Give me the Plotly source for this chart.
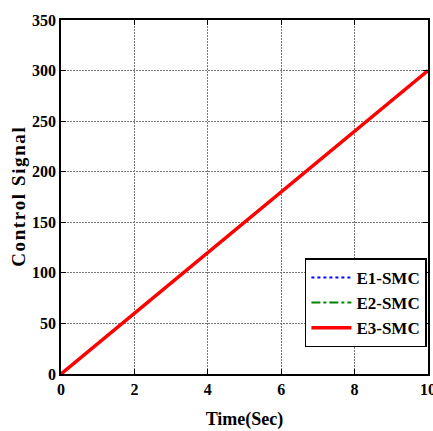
import plotly.graph_objects as go

time_s = [0, 0.5, 1, 1.5, 2, 2.5, 3, 3.5, 4, 4.5, 5, 5.5, 6, 6.5, 7, 7.5, 8, 8.5, 9, 9.5, 10]
e1_smc = [0, 15, 30, 45, 60, 75, 90, 105, 120, 135, 150, 165, 180, 195, 210, 225, 240, 255, 270, 285, 300]
e2_smc = [0, 15, 30, 45, 60, 75, 90, 105, 120, 135, 150, 165, 180, 195, 210, 225, 240, 255, 270, 285, 300]
e3_smc = [0, 15, 30, 45, 60, 75, 90, 105, 120, 135, 150, 165, 180, 195, 210, 225, 240, 255, 270, 285, 300]

x_ticks = [0, 2, 4, 6, 8, 10]
y_ticks = [0, 50, 100, 150, 200, 250, 300, 350]

font_family = "Liberation Serif"
hs = "\u200a"
y_title = hs.join("Control") + hs + " " + hs + hs.join("Signal")

fig = go.Figure()
fig.add_trace(go.Scatter(x=time_s, y=e1_smc, mode="lines", name="E1-SMC",
                         line=dict(color="blue", width=2, dash="dot")))
fig.add_trace(go.Scatter(x=time_s, y=e2_smc, mode="lines", name="E2-SMC",
                         line=dict(color="green", width=2, dash="dashdot")))
fig.add_trace(go.Scatter(x=time_s, y=e3_smc, mode="lines", name="E3-SMC",
                         line=dict(color="red", width=3.5)))

axis_common = dict(
    showline=True, linecolor="black", linewidth=1.5, mirror="ticks",
    ticks="inside", ticklen=5, tickcolor="black", tickwidth=1,
    showgrid=True, gridcolor="#777777", griddash="2px,1px", gridwidth=1,
    zeroline=False, ticklabeloverflow="allow", automargin=False,
    tickfont=dict(family=font_family, size=16, color="black", weight="bold"),
)

fig.update_layout(
    width=433, height=431,
    margin=dict(l=61, r=5, t=20, b=57),
    paper_bgcolor="white", plot_bgcolor="white",
    showlegend=True,
    legend=dict(
        x=0.997, y=0.075, xanchor="right", yanchor="bottom",
        bgcolor="white", bordercolor="black", borderwidth=1.5,
        font=dict(family=font_family, size=17, color="black", weight="bold"),
        itemwidth=40, tracegroupgap=2,
    ),
    xaxis=dict(range=[0, 10], tickvals=x_ticks,
               title=dict(text="Time(Sec)", standoff=15,
                          font=dict(family=font_family, size=18, color="black", weight="bold")),
               **axis_common),
    yaxis=dict(range=[0, 350], tickvals=y_ticks,
               title=dict(text=y_title, standoff=1,
                          font=dict(family=font_family, size=19, color="black", weight="bold")),
               **axis_common),
)

fig.write_html("out.html")
